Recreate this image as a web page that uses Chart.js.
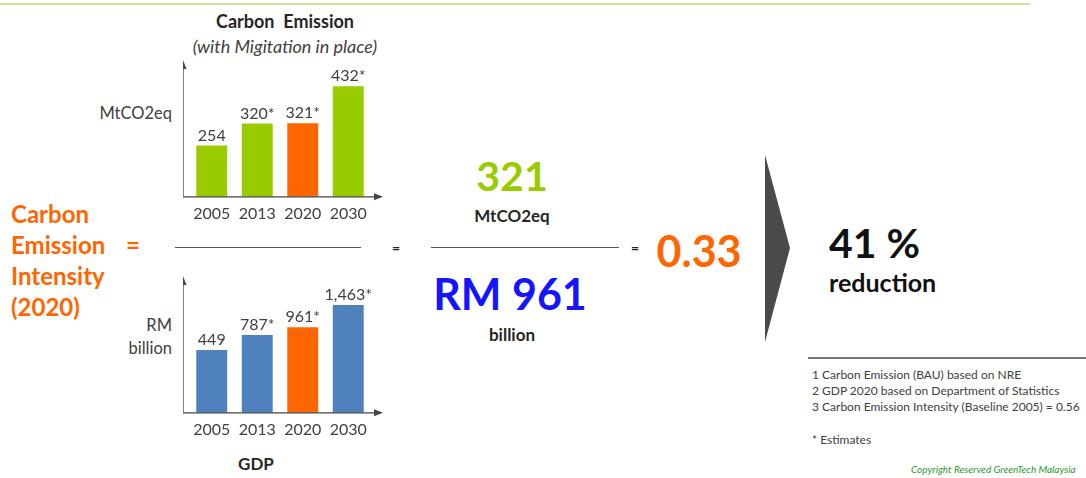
<!DOCTYPE html>
<html>
<head>
<meta charset="utf-8">
<script src="https://cdn.jsdelivr.net/npm/chart.js@4/dist/chart.umd.min.js"></script>
<style>
  body { margin: 0; background: #fff; font-family: Lato, sans-serif; color: #404040; }
  #page { position: relative; width: 1086px; height: 478px; overflow: hidden; }
  .t { position: absolute; white-space: nowrap; line-height: 1; }
  .c { transform: translate(-50%, -50%); }
  .box { position: absolute; width: 200px; height: 190px; }
</style>
</head>
<body>
<div id="page">
  <div style="position:absolute;left:0;top:3px;width:1030px;height:2px;background:#cfe39a"></div>

  <div class="t c" style="left:285px;top:21px;font-weight:bold;font-size:18px;color:#262626">Carbon&nbsp; Emission</div>
  <div class="t c" style="left:285px;top:46px;font-style:italic;font-size:18px">(with Migitation in place)</div>
  <div class="t" style="right:914px;top:105px;font-size:16.5px">MtCO2eq</div>
  <div class="t" style="right:914px;top:314px;font-size:16.5px;text-align:right;line-height:23px">RM<br>billion</div>
  <div class="t c" style="left:256px;top:463px;font-weight:bold;font-size:17px;color:#262626">GDP</div>

  <div class="t" style="left:11px;top:198px;font-weight:bold;font-size:24px;color:#ff6600;line-height:31px">Carbon<br>Emission<br>Intensity<br>(2020)</div>
  <div class="t c" style="left:133px;top:245px;font-weight:bold;font-size:24px;color:#ff6600">=</div>

  <div style="position:absolute;left:175px;top:247px;width:186px;height:1px;background:#555"></div>
  <div class="t c" style="left:396px;top:248px;font-weight:bold;font-size:14px;color:#222">=</div>
  <div style="position:absolute;left:431px;top:247px;width:188px;height:1px;background:#555"></div>
  <div class="t c" style="left:635px;top:248px;font-weight:bold;font-size:14px;color:#222">=</div>

  <div class="t c" style="left:512px;top:175px;font-weight:bold;font-size:41px;color:#99cc00">321</div>
  <div class="t c" style="left:512px;top:215px;font-weight:bold;font-size:17px;color:#262626">MtCO2eq</div>
  <div class="t c" style="left:510px;top:293px;font-weight:bold;font-size:43px;color:#1414ff">RM 961</div>
  <div class="t c" style="left:512px;top:334px;font-weight:bold;font-size:17px;color:#262626">billion</div>

  <div class="t c" style="left:699px;top:250px;font-weight:bold;font-size:43px;color:#ff6600">0.33</div>

  <svg style="position:absolute;left:0;top:0" width="1086" height="478">
    <polygon points="765,155 790,248 765,342" fill="#4a4a4a"/>
  </svg>

  <div class="t" style="left:829px;top:222px;font-weight:bold;font-size:41px;color:#111">41 %</div>
  <div class="t" style="left:829px;top:270px;font-weight:bold;font-size:25px;color:#111">reduction</div>

  <div style="position:absolute;left:808px;top:357px;width:278px;height:2px;background:#777"></div>
  <div class="t" style="left:812px;top:367px;font-size:12px;line-height:16px;color:#404040">1 Carbon Emission (BAU) based on NRE<br>2 GDP 2020 based on Department of Statistics<br>3 Carbon Emission Intensity (Baseline 2005) = 0.56</div>
  <div class="t" style="left:812px;top:434px;font-size:12px;color:#404040">* Estimates</div>
  <div class="t" style="left:911px;top:464px;font-size:10px;font-style:italic;color:#2e9a2e">Copyright Reserved GreenTech Malaysia</div>

  <div class="box" style="left:183px;top:40px"><canvas id="emission"></canvas></div>
  <div class="box" style="left:183px;top:256px"><canvas id="gdp"></canvas></div>
</div>

<script>
// data
const years = ['2005', '2013', '2020', '2030'];
const emission = [254, 320, 321, 432];          // MtCO2eq
const emissionLabels = ['254', '320*', '321*', '432*'];
const gdp = [449, 787, 961, 1463];              // RM billion
const gdpLabels = ['449', '787*', '961*', '1,463*'];
const highlight = '2020';

const GREEN = '#99cc00', ORANGE = '#ff6600', BLUE = '#4f81bd', TXT = '#404040';

// axis arrows like the slide + value labels over bars
const arrowAxes = {
  id: 'arrowAxes',
  afterDraw(chart) {
    const ctx = chart.ctx, a = chart.chartArea;
    const x0 = a.left - 6, y0 = a.bottom;
    ctx.save();
    ctx.strokeStyle = '#444';
    ctx.fillStyle = '#444';
    ctx.lineWidth = 1.3;
    ctx.beginPath();
    ctx.moveTo(x0, y0); ctx.lineTo(x0, a.top + 4);
    ctx.moveTo(x0, y0); ctx.lineTo(a.right + 6, y0);
    ctx.stroke();
    ctx.beginPath();
    ctx.moveTo(x0, a.top - 2); ctx.lineTo(x0 - 3.5, a.top + 7); ctx.lineTo(x0 + 3.5, a.top + 7); ctx.closePath();
    ctx.fill();
    ctx.beginPath();
    ctx.moveTo(a.right + 12, y0); ctx.lineTo(a.right + 3, y0 - 3.5); ctx.lineTo(a.right + 3, y0 + 3.5); ctx.closePath();
    ctx.fill();

    const labels = chart.options.plugins.arrowAxes.labels;
    ctx.font = '16px Lato';
    ctx.fillStyle = TXT;
    ctx.textAlign = 'center';
    ctx.textBaseline = 'bottom';
    chart.getDatasetMeta(0).data.forEach((bar, i) => {
      ctx.fillText(labels[i], bar.x, bar.y - 2);
    });
    ctx.restore();
  }
};

function makeChart(id, values, labels, baseColor, min, max) {
  new Chart(document.getElementById(id), {
    type: 'bar',
    data: {
      labels: years,
      datasets: [{
        data: values,
        base: min,
        backgroundColor: years.map(y => y === highlight ? ORANGE : baseColor),
        barPercentage: 0.68,
        categoryPercentage: 1
      }]
    },
    options: {
      responsive: true,
      maintainAspectRatio: false,
      animation: false,
      layout: { padding: { left: 6, right: 12, top: 22, bottom: 0 } },
      plugins: {
        legend: { display: false },
        tooltip: { enabled: false },
        arrowAxes: { labels: labels }
      },
      scales: {
        x: {
          grid: { display: false, drawTicks: false },
          border: { display: false },
          ticks: { color: TXT, font: { family: 'Lato', size: 16 }, padding: 7 }
        },
        y: { display: false, min: min, max: max }
      }
    },
    plugins: [arrowAxes]
  });
}

makeChart('emission', emission, emissionLabels, GREEN, 100, 505);
makeChart('gdp', gdp, gdpLabels, BLUE, -970, 2070);
</script>
</body>
</html>
